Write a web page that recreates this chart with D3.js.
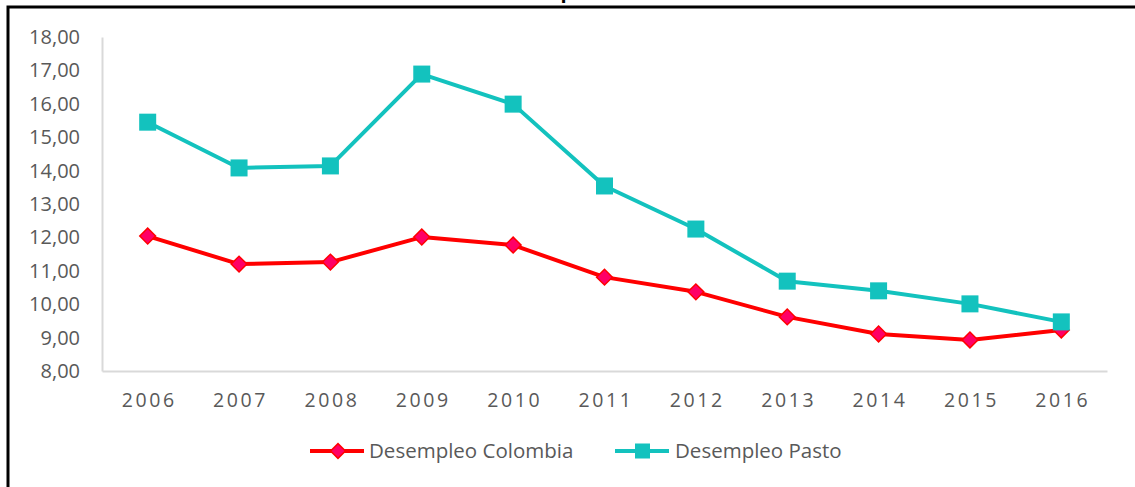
<!DOCTYPE html>
<html>
<head>
<meta charset="utf-8">
<script src="https://cdn.jsdelivr.net/npm/d3@7"></script>
<style>
  body { margin: 0; background: #fff; }
  svg text { font-family: "Open Sans", sans-serif; fill: #595959; }
</style>
</head>
<body>
<div id="chart"></div>
<script>
// data
var years = ["2006", "2007", "2008", "2009", "2010", "2011", "2012", "2013", "2014", "2015", "2016"];
var colombia = [12.04, 11.20, 11.26, 12.01, 11.77, 10.81, 10.37, 9.62, 9.11, 8.93, 9.23];
var pasto = [15.45, 14.08, 14.14, 16.89, 15.99, 13.54, 12.25, 10.69, 10.40, 10.01, 9.47];
var yTicks = [8, 9, 10, 11, 12, 13, 14, 15, 16, 17, 18];
var seriesNames = ["Desempleo Colombia", "Desempleo Pasto"];

var width = 1135, height = 487;
var margin = {top: 37, right: 28, bottom: 116, left: 102};

var svg = d3.select("#chart").append("svg")
    .attr("width", width)
    .attr("height", height);

// outer frame (runs off the right and bottom edge)
svg.append("rect")
    .attr("x", 8).attr("y", 7)
    .attr("width", 1200).attr("height", 600)
    .attr("fill", "none")
    .attr("stroke", "#000")
    .attr("stroke-width", 3);

// title, mostly clipped above the frame
svg.append("text")
    .attr("x", 548).attr("y", -2)
    .attr("text-anchor", "middle")
    .style("font-weight", "bold")
    .style("font-size", "20px")
    .style("fill", "#000")
    .text("Desempleo");

var x = d3.scaleBand().domain(years).range([margin.left, width - margin.right]);
var y = d3.scaleLinear().domain([8, 18]).range([height - margin.bottom, margin.top]);

// axes
var xAxis = svg.append("g")
    .attr("transform", "translate(0," + y(8) + ")")
    .call(d3.axisBottom(x).tickSize(0).tickPadding(22));
xAxis.select(".domain").attr("stroke", "#d9d9d9").attr("stroke-width", 2);
xAxis.selectAll("text")
    .style("font-size", "19.5px")
    .style("letter-spacing", "2.6px")
    .style("font-family", "'Open Sans', sans-serif")
    .attr("fill", "#595959")
    .attr("dx", "1.5px");

var yAxis = svg.append("g")
    .attr("transform", "translate(" + margin.left + ",0)")
    .call(d3.axisLeft(y).tickValues(yTicks).tickSize(0).tickPadding(22)
        .tickFormat(function(d) { return d3.format(".2f")(d).replace(".", ","); }));
yAxis.select(".domain").attr("stroke", "#d9d9d9").attr("stroke-width", 2);
yAxis.selectAll("text")
    .style("font-size", "20px")
    .style("font-family", "'Open Sans', sans-serif")
    .attr("fill", "#595959");

var cx = function(d, i) { return x(years[i]) + x.bandwidth() / 2; };
var line = d3.line()
    .x(function(d, i) { return cx(d, i); })
    .y(function(d) { return y(d); });

// Colombia line + diamonds
svg.append("path")
    .datum(colombia)
    .attr("d", line)
    .attr("fill", "none")
    .attr("stroke", "#ff0000")
    .attr("stroke-width", 4)
    .attr("stroke-linejoin", "round");

var diamond = d3.symbol().type(d3.symbolSquare).size(125);
svg.selectAll(".dia")
    .data(colombia)
    .enter().append("path")
    .attr("class", "dia")
    .attr("d", diamond)
    .attr("transform", function(d, i) { return "translate(" + cx(d, i) + "," + y(d) + ") rotate(45)"; })
    .attr("fill", "#ff0066")
    .attr("stroke", "#ff0000")
    .attr("stroke-width", 1.5);

// Pasto line + squares
svg.append("path")
    .datum(pasto)
    .attr("d", line)
    .attr("fill", "none")
    .attr("stroke", "#13c2be")
    .attr("stroke-width", 4)
    .attr("stroke-linejoin", "round");

svg.selectAll(".sq")
    .data(pasto)
    .enter().append("rect")
    .attr("class", "sq")
    .attr("x", function(d, i) { return cx(d, i) - 8.5; })
    .attr("y", function(d) { return y(d) - 8.5; })
    .attr("width", 17).attr("height", 17)
    .attr("fill", "#13c2be");

// legend
var legend = svg.append("g").attr("transform", "translate(0,451)");

legend.append("line")
    .attr("x1", 310).attr("x2", 364)
    .attr("stroke", "#ff0000").attr("stroke-width", 4);
legend.append("path")
    .attr("d", d3.symbol().type(d3.symbolSquare).size(110))
    .attr("transform", "translate(338,0) rotate(45)")
    .attr("fill", "#ff0066").attr("stroke", "#ff0000").attr("stroke-width", 1.5);
legend.append("text")
    .attr("x", 369).attr("y", 7)
    .style("font-size", "20.5px")
    .text(seriesNames[0]);

legend.append("line")
    .attr("x1", 615).attr("x2", 669)
    .attr("stroke", "#13c2be").attr("stroke-width", 4);
legend.append("rect")
    .attr("x", 635).attr("y", -7.5)
    .attr("width", 15).attr("height", 15)
    .attr("fill", "#13c2be");
legend.append("text")
    .attr("x", 675).attr("y", 7)
    .style("font-size", "20.5px")
    .text(seriesNames[1]);
</script>
</body>
</html>
